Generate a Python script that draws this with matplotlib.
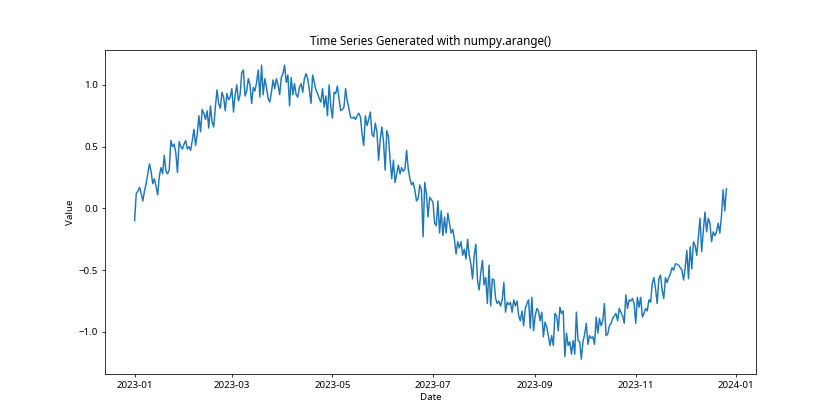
import matplotlib
matplotlib.use("Agg")
import matplotlib.pyplot as plt
import pandas as pd

plt.rcParams["font.family"] = ["Noto Sans", "DejaVu Sans"]

START_DATE = "2023-01-01"

# daily values (one per day)
values = [
    -0.10, 0.12, 0.14, 0.17, 0.12, 0.06, 0.14, 0.20, 0.28, 0.36,
    0.30, 0.20, 0.24, 0.18, 0.11, 0.26, 0.33, 0.28, 0.43, 0.30,
    0.28, 0.31, 0.55, 0.50, 0.52, 0.45, 0.29, 0.54, 0.50, 0.48,
    0.52,
    0.55, 0.48, 0.50, 0.47, 0.55, 0.64, 0.51, 0.60, 0.75, 0.62,
    0.80, 0.77, 0.72, 0.79, 0.65, 0.83, 0.70, 0.66, 0.82, 0.96,
    0.85, 0.81, 0.94, 0.90, 0.79, 0.93, 0.88, 0.90, 0.97, 0.78,
    0.92, 1.00, 0.87, 0.92,
    1.10, 1.12, 0.91, 0.95, 1.05, 1.00, 0.85, 0.98, 0.95, 1.02,
    1.12, 0.90, 1.16, 0.92, 1.05, 0.98, 0.89, 0.86, 0.94, 1.04,
    0.97, 1.05, 1.00, 0.92, 1.06, 1.09, 1.16, 1.02, 1.08, 0.83,
    1.06, 0.92, 1.01, 0.92,
    0.90, 0.98, 1.01, 0.94, 1.05, 1.09, 1.05, 0.96, 0.85, 1.08,
    1.02, 0.96, 0.93, 0.89, 0.86, 0.97, 0.82, 0.91, 0.75, 1.00,
    0.83, 0.73, 0.94, 0.93, 0.99, 0.89, 0.79, 0.80, 0.82, 0.97,
    0.87, 0.81, 0.74, 0.73,
    0.74, 0.72, 0.75, 0.77, 0.74, 0.60, 0.51, 0.75, 0.67, 0.72,
    0.78, 0.60, 0.58, 0.69, 0.62, 0.39, 0.56, 0.66, 0.54, 0.31,
    0.63, 0.58, 0.39, 0.24, 0.39, 0.21, 0.28, 0.35, 0.28, 0.33,
    0.30, 0.32, 0.47, 0.32, 0.24,
    0.19, 0.21, 0.15, 0.06, 0.08, 0.19, 0.15, -0.23, 0.21, 0.12,
    -0.07, 0.09, 0.07, 0.05, -0.12, -0.14, 0.06, -0.20, -0.02, -0.22,
    -0.07, -0.20, -0.04, -0.12, -0.20, -0.17, -0.25, -0.37, -0.27, -0.32,
    -0.27, -0.38, -0.33, -0.41,
    -0.25, -0.38, -0.45, -0.57, -0.38, -0.29, -0.58, -0.66, -0.52, -0.42,
    -0.62, -0.56, -0.77, -0.46, -0.79, -0.57, -0.58, -0.73, -0.77, -0.75,
    -0.79, -0.74, -0.60, -0.84, -0.76, -0.78, -0.76, -0.84, -0.74, -0.79,
    -0.75, -0.87,
    -0.91, -0.83, -0.95, -0.81, -0.77, -0.74, -0.97, -0.72, -0.99, -0.87,
    -0.81, -0.83, -0.91, -0.84, -1.04, -0.92, -0.96, -1.03, -1.11, -1.03,
    -1.11, -0.85, -0.87, -0.99, -0.80, -0.85, -0.83, -1.20, -1.01, -1.11,
    -1.08, -1.18, -1.07, -1.18,
    -0.84, -1.07, -1.08, -1.22, -1.08, -1.02, -0.93, -1.10, -1.03, -1.05,
    -1.04, -1.10, -0.88, -1.01, -0.89, -0.95, -0.91, -0.77, -1.03, -1.02,
    -0.95, -0.93, -0.89, -0.87, -0.85, -0.91, -0.81, -0.84, -0.87, -0.93,
    -0.70, -0.81, -0.74,
    -0.75, -0.73, -0.77, -0.93, -0.72, -0.80, -0.72, -0.88, -0.85, -0.81,
    -0.83, -0.74, -0.76, -0.61, -0.56, -0.65, -0.77, -0.57, -0.54, -0.66,
    -0.73, -0.56, -0.60, -0.56, -0.53, -0.48, -0.50, -0.45, -0.45, -0.46,
    -0.48, -0.50, -0.58, -0.48, -0.34, -0.57,
    -0.31, -0.49, -0.27, -0.30, -0.38, -0.23, -0.08, -0.35, -0.18, -0.03,
    -0.19, -0.08, -0.12, -0.27, -0.19, -0.22, -0.19, -0.12, -0.20, -0.06,
    0.15, -0.02, 0.16,
]

dates = pd.date_range(START_DATE, periods=len(values), freq="D")

fig, ax = plt.subplots(figsize=(12, 6), dpi=70)
ax.plot(dates, values, color="#1f77b4", lw=1.5)
ax.set_title("Time Series Generated with numpy.arange()")
ax.set_xlabel("Date")
ax.set_ylabel("Value")

fig.savefig("out.png", dpi=70, facecolor="white")
